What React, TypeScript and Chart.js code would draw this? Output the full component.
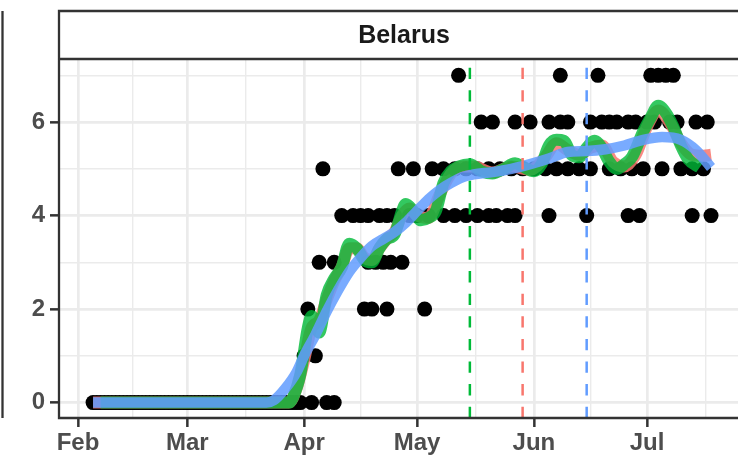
import { useEffect, useRef } from "react";
import { Chart, registerables } from "chart.js";

Chart.register(...registerables);

// x values are days since 2020-02-01
const monthDays = [0, 29, 60, 90, 121, 151];
const monthLabels = ["Feb", "Mar", "Apr", "May", "Jun", "Jul"];
const minorMonthDays = [14.5, 44.5, 75, 105.5, 136, 166.5];
const yMajor = [0, 2, 4, 6];
const yMinor = [1, 3, 5, 7];

// observed points, grouped by value
const daysAt0 = [
  4, 5, 6, 7, 8, 9, 10, 11, 12, 13, 14, 15, 16, 17, 18, 19, 20, 21, 22, 23, 24, 25, 26, 27, 28,
  29, 30, 31, 32, 33, 34, 35, 36, 37, 38, 39, 40, 41, 42, 43, 44, 45, 46, 47, 48, 49, 50, 51, 52,
  53, 54, 55, 56, 57, 58, 59, 62, 66, 68,
];
const daysAt1 = [60, 63];
const daysAt2 = [61, 76, 78, 82, 92];
const daysAt3 = [64, 68, 77, 79, 81, 83, 86];
const daysAt4 = [
  70, 73, 75, 77, 80, 82, 84, 88, 90, 93, 97, 100, 103, 106, 109, 111, 114, 116, 125, 135, 146,
  149, 163, 168,
];
const daysAt5 = [
  65, 85, 89, 94, 97, 100, 103, 106, 109, 112, 115, 118, 121, 124, 127, 130, 133, 136, 141, 144,
  147, 150, 155, 160, 163, 166,
];
const daysAt6 = [
  107, 110, 116, 120, 125, 128, 130, 136, 139, 141, 143, 146, 148, 151, 153, 157, 159, 164, 167,
];
const daysAt7 = [101, 128, 138, 152, 154, 156, 158];

// fitted curves
const redDays = [4, 20, 40, 56, 58, 60, 62, 64, 66, 68, 70, 72, 74, 76, 78, 80, 82, 84, 86, 88, 90, 93, 96, 99, 102, 105, 110, 115, 120, 124, 127, 130, 133, 136, 139, 142, 145, 148, 151, 154, 157, 160, 163, 166, 168];
const redValues = [0, 0, 0, 0, 0.3, 0.9, 1.6, 1.75, 2.2, 2.6, 2.9, 3.3, 3.3, 3.1, 3.05, 3.3, 3.5, 3.65, 4.0, 4.15, 4.0, 3.95, 4.45, 4.9, 5.05, 5.05, 4.92, 5.05, 4.98, 5.25, 5.55, 5.4, 5.3, 5.45, 5.5, 5.15, 5.05, 5.3, 5.9, 6.25, 6.0, 5.55, 5.3, 5.28, 5.3];

const greenDays = [6, 20, 40, 56, 57, 59, 61, 62, 64, 66, 68, 70, 72, 74, 76, 78, 80, 82, 84, 86, 87, 89, 91, 93, 95, 97, 99, 101, 104, 107, 110, 113, 116, 118, 121, 123, 125, 127, 129, 131, 133, 135, 137, 139, 141, 143, 145, 147, 150, 152, 154, 156, 158, 160, 162, 165];
const greenValues = [0, 0, 0, 0, 0.1, 0.6, 1.6, 1.85, 1.5, 2.3, 2.65, 2.9, 3.4, 3.3, 3.05, 3.0, 3.3, 3.5, 3.6, 4.1, 4.25, 4.1, 3.9, 3.95, 4.1, 4.7, 4.95, 5.05, 5.1, 4.95, 4.9, 5.0, 5.12, 5.05, 4.95, 5.1, 5.5, 5.62, 5.6, 5.3, 5.25, 5.45, 5.6, 5.45, 5.15, 5.0, 5.1, 5.25, 5.8, 6.1, 6.35, 6.2, 5.9, 5.5, 5.2, 5.03];

const blueDays = [4, 20, 40, 50, 52, 55, 58, 60, 63, 66, 69, 72, 75, 78, 81, 84, 87, 90, 93, 96, 99, 102, 105, 110, 115, 120, 125, 130, 135, 140, 145, 150, 155, 160, 164, 168];
const blueValues = [0, 0, 0, 0, 0.05, 0.3, 0.65, 1.0, 1.45, 1.95, 2.4, 2.8, 3.1, 3.35, 3.5, 3.65, 3.85, 4.1, 4.35, 4.55, 4.7, 4.82, 4.88, 4.93, 5.0, 5.1, 5.22, 5.36, 5.38, 5.42, 5.5, 5.62, 5.68, 5.62, 5.4, 5.03];

// vertical reference dates: 2020-05-15, 2020-05-29, 2020-06-15
const vlineDays = [104, 118, 135];
const vlineColors = ["#00BA38", "#F8766D", "#619CFF"];

const panelTitle = "Belarus";

const X_MIN = -5.04;
const X_MAX = 175.16;
const Y_MIN = -0.33;
const Y_MAX = 7.35;

const FONT = '"Liberation Sans", Arial, Helvetica, sans-serif';

function toXY(days: number[], values: number[]) {
  return days.map((d, i) => ({ x: d, y: values[i] }));
}

export default function App() {
  const ref = useRef<HTMLCanvasElement | null>(null);

  useEffect(() => {
    const canvas = ref.current;
    if (!canvas) return;

    const groups = [daysAt0, daysAt1, daysAt2, daysAt3, daysAt4, daysAt5, daysAt6, daysAt7];
    const points: { x: number; y: number }[] = [];
    groups.forEach((days, v) => days.forEach((d) => points.push({ x: d, y: v })));

    const framePlugin = {
      id: "frame",
      afterDraw(chart: any) {
        const { ctx, chartArea } = chart;
        const { left, top, bottom } = chartArea;
        const W = chart.width;
        ctx.save();
        ctx.strokeStyle = "#333333";
        ctx.lineWidth = 2.3;
        // strip
        const stripTop = 11;
        ctx.fillStyle = "#FFFFFF";
        ctx.fillRect(left, stripTop, W - left + 5, top - stripTop);
        ctx.beginPath();
        ctx.moveTo(W + 5, stripTop);
        ctx.lineTo(left, stripTop);
        ctx.lineTo(left, bottom);
        ctx.lineTo(W + 5, bottom);
        ctx.moveTo(left, top);
        ctx.lineTo(W + 5, top);
        ctx.stroke();
        // neighbouring panel edge
        ctx.beginPath();
        ctx.moveTo(2.5, stripTop);
        ctx.lineTo(2.5, bottom);
        ctx.stroke();
        // strip text
        ctx.fillStyle = "#1A1A1A";
        ctx.font = `bold 25px ${FONT}`;
        ctx.textAlign = "center";
        ctx.textBaseline = "middle";
        ctx.fillText(panelTitle, 404, (stripTop + top) / 2 + 1);
        ctx.restore();
      },
    };

    const isMajorX = (v: number) => monthDays.includes(v);
    const isMajorY = (v: number) => yMajor.includes(v);

    const datasets: any[] = [];
    vlineDays.forEach((d, i) => {
      datasets.push({
        type: "line",
        data: [
          { x: d, y: Y_MIN },
          { x: d, y: Y_MAX },
        ],
        borderColor: vlineColors[i],
        borderWidth: 2.5,
        borderDash: [11.3, 11.3],
        pointRadius: 0,
        order: 0,
      });
    });
    datasets.push({
      type: "line",
      data: toXY(blueDays, blueValues),
      borderColor: "rgba(97,156,255,0.85)",
      borderWidth: 10.5,
      cubicInterpolationMode: "monotone",
      pointRadius: 0,
      borderCapStyle: "butt",
      order: 1,
    });
    datasets.push({
      type: "line",
      data: toXY(greenDays, greenValues),
      borderColor: "rgba(0,186,56,0.8)",
      borderWidth: 12,
      cubicInterpolationMode: "monotone",
      pointRadius: 0,
      borderCapStyle: "butt",
      order: 2,
    });
    datasets.push({
      type: "line",
      data: toXY(redDays, redValues),
      borderColor: "rgba(248,118,109,0.85)",
      borderWidth: 12,
      cubicInterpolationMode: "monotone",
      pointRadius: 0,
      borderCapStyle: "butt",
      order: 3,
    });
    datasets.push({
      type: "scatter",
      data: points,
      pointRadius: 7.5,
      pointBackgroundColor: "#000000",
      pointBorderWidth: 0,
      pointHoverRadius: 7.5,
      order: 4,
    });

    const chart = new Chart(canvas, {
      type: "scatter",
      data: { datasets },
      options: {
        responsive: false,
        animation: false,
        events: [],
        layout: { autoPadding: false, padding: { top: 59, left: 0, right: 0, bottom: 0 } },
        plugins: { legend: { display: false }, tooltip: { enabled: false } },
        scales: {
          x: {
            type: "linear",
            min: X_MIN,
            max: X_MAX,
            afterBuildTicks: (s: any) => {
              s.ticks = [...monthDays, ...minorMonthDays]
                .sort((a, b) => a - b)
                .map((v) => ({ value: v }));
            },
            afterFit: (s: any) => {
              s.height = 455 - 418;
            },
            border: { display: false },
            grid: {
              color: "#EBEBEB",
              lineWidth: (c: any) => (c.tick && isMajorX(c.tick.value) ? 2.7 : 1.4),
              drawTicks: true,
              tickLength: 9,
              tickWidth: 2.5,
              tickColor: (c: any) => (c.tick && isMajorX(c.tick.value) ? "#333333" : "rgba(0,0,0,0)"),
            },
            ticks: {
              autoSkip: false,
              maxRotation: 0,
              minRotation: 0,
              padding: 2,
              color: "#4D4D4D",
              font: { family: FONT, size: 24, weight: "bold" },
              callback: (v: any) => {
                const i = monthDays.indexOf(Number(v));
                return i >= 0 ? monthLabels[i] : "";
              },
            },
          },
          y: {
            type: "linear",
            min: Y_MIN,
            max: Y_MAX,
            afterBuildTicks: (s: any) => {
              s.ticks = [...yMajor, ...yMinor].sort((a, b) => a - b).map((v) => ({ value: v }));
            },
            afterFit: (s: any) => {
              s.width = 59;
            },
            border: { display: false },
            grid: {
              color: "#EBEBEB",
              lineWidth: (c: any) => (c.tick && isMajorY(c.tick.value) ? 2.7 : 1.4),
              drawTicks: true,
              tickLength: 9,
              tickWidth: 2.5,
              tickColor: (c: any) => (c.tick && isMajorY(c.tick.value) ? "#333333" : "rgba(0,0,0,0)"),
            },
            ticks: {
              autoSkip: false,
              padding: 5,
              color: "#4D4D4D",
              font: { family: FONT, size: 24, weight: "bold" },
              callback: (v: any) => (isMajorY(Number(v)) ? String(v) : ""),
            },
          },
        },
      } as any,
      plugins: [framePlugin],
    } as any);

    return () => chart.destroy();
  }, []);

  return (
    <div style={{ position: "absolute", left: 0, top: 0, width: 738, height: 455, overflow: "hidden", background: "#fff" }}>
      <canvas ref={ref} width={738} height={455} style={{ display: "block", width: 738, height: 455 }} />
    </div>
  );
}
